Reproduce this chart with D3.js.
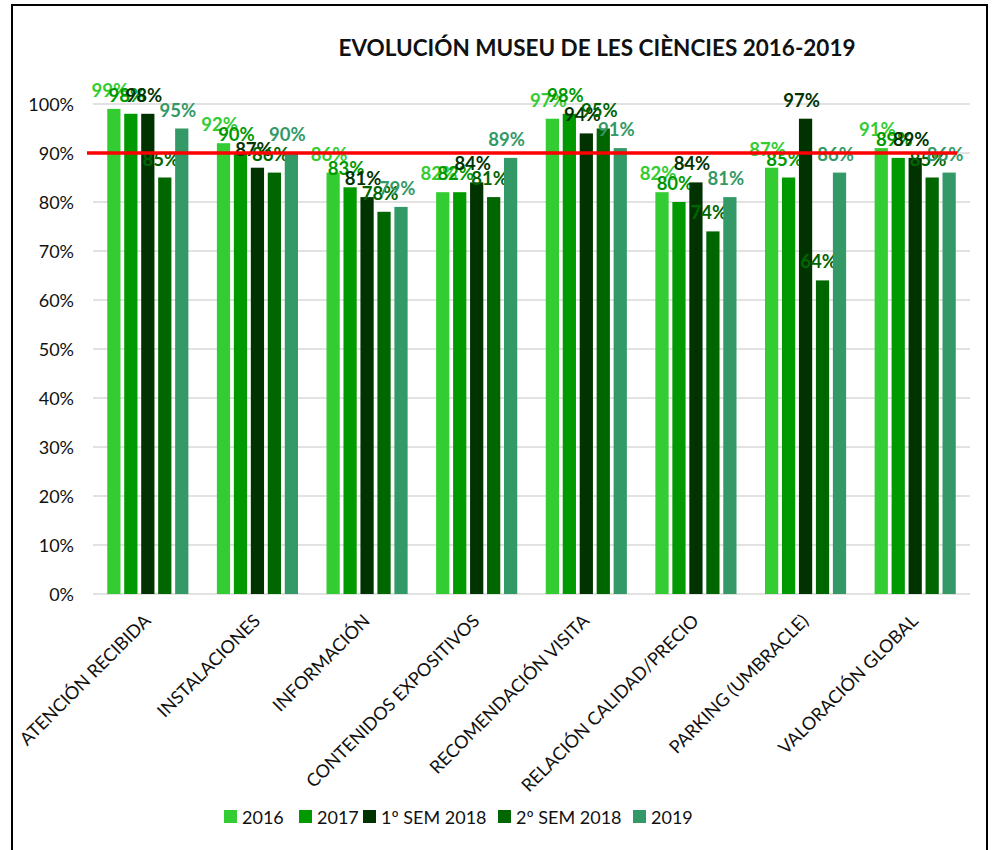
<!DOCTYPE html>
<html>
<head>
    <meta charset="utf-8" />
    <title>Evolución Museu de les Ciències</title>
    <script src="https://cdn.jsdelivr.net/npm/d3@7"></script>
    <style>
        body { margin: 0; background: #fff; font-family: Lato, "Noto Sans", sans-serif; }
        .grid line { stroke: #d9d9d9; stroke-width: 1.3; }
        .ylab { font-size: 18px; fill: #111; }
        .xlab { font-size: 18px; fill: #111; }
        .vlab { font-size: 18.5px; font-weight: bold; }
        .leg text { font-size: 18px; fill: #111; }
    </style>
</head>
<body>
<svg width="996" height="850"></svg>
<script>
    // categorías del eje X
    var categorias = ["ATENCIÓN RECIBIDA", "INSTALACIONES", "INFORMACIÓN", "CONTENIDOS EXPOSITIVOS",
        "RECOMENDACIÓN VISITA", "RELACIÓN CALIDAD/PRECIO", "PARKING (UMBRACLE)", "VALORACIÓN GLOBAL"];
    var series = ["2016", "2017", "1º SEM 2018", "2º SEM 2018", "2019"];
    var colores = ["#33cc33", "#009900", "#003300", "#006600", "#339966"];

    // valores (%) por serie
    var v2016 = [99, 92, 86, 82, 97, 82, 87, 91];
    var v2017 = [98, 90, 83, 82, 98, 80, 85, 89];
    var v1sem2018 = [98, 87, 81, 84, 94, 84, 97, 89];
    var v2sem2018 = [85, 86, 78, 81, 95, 74, 64, 85];
    var v2019 = [95, 90, 79, 89, 91, 81, 86, 86];
    var objetivo = 90;
    var yTicks = [0, 10, 20, 30, 40, 50, 60, 70, 80, 90, 100];

    var valores = [v2016, v2017, v1sem2018, v2sem2018, v2019];

    var svg = d3.select("svg");

    // marco
    svg.append("rect").attr("x", 12).attr("y", 5).attr("width", 975).attr("height", 860)
        .attr("fill", "none").attr("stroke", "#000").attr("stroke-width", 2);

    svg.append("text").attr("x", 597).attr("y", 56).attr("text-anchor", "middle")
        .style("font-size", "22.5px").style("font-weight", "bold").style("fill", "#111")
        .text("EVOLUCIÓN MUSEU DE LES CIÈNCIES 2016-2019");

    var pLeft = 93, pRight = 970, pTop = 104, pBottom = 594;

    var x0 = d3.scaleBand().domain(categorias).range([pLeft, pRight]).paddingInner(0.26).paddingOuter(0.13);
    var x1 = d3.scaleBand().domain(series).range([0, x0.bandwidth()]).paddingInner(0.22);
    var y = d3.scaleLinear().domain([0, 100]).range([pBottom, pTop]);

    // rejilla
    svg.append("g").attr("class", "grid").selectAll("line").data(yTicks).enter().append("line")
        .attr("x1", pLeft).attr("x2", pRight)
        .attr("y1", function (d) { return y(d); }).attr("y2", function (d) { return y(d); });

    // eje Y
    var yAxis = svg.append("g").attr("transform", "translate(" + (pLeft - 19) + ",0)")
        .call(d3.axisLeft(y).tickValues(yTicks).tickSize(0).tickFormat(function (d) { return d + "%"; }));
    yAxis.select(".domain").remove();
    yAxis.selectAll("text").attr("class", "ylab").attr("dy", "0.35em").attr("x", 0)
        .style("font-family", "Lato, sans-serif");

    // barras
    var grupos = svg.selectAll("g.serie").data(series).enter().append("g").attr("class", "serie");
    grupos.each(function (s, i) {
        var g = d3.select(this);
        g.selectAll("rect").data(valores[i]).enter().append("rect")
            .attr("x", function (d, j) { return x0(categorias[j]) + x1(s); })
            .attr("y", function (d) { return y(d); })
            .attr("width", x1.bandwidth())
            .attr("height", function (d) { return y(0) - y(d); })
            .attr("fill", colores[i]);
    });

    // línea objetivo
    svg.append("line").attr("x1", 87).attr("x2", 957)
        .attr("y1", y(objetivo)).attr("y2", y(objetivo))
        .attr("stroke", "#ff0000").attr("stroke-width", 3.5);

    // etiquetas de valor
    grupos.each(function (s, i) {
        var g = d3.select(this);
        g.selectAll("text").data(valores[i]).enter().append("text")
            .attr("class", "vlab")
            .attr("x", function (d, j) { return x0(categorias[j]) + x1(s) + x1.bandwidth() / 2 - 4; })
            .attr("y", function (d) { return y(d) - 12; })
            .attr("text-anchor", "middle")
            .attr("fill", colores[i])
            .text(function (d) { return d + "%"; });
    });

    // etiquetas eje X
    svg.append("g").selectAll("text").data(categorias).enter().append("text")
        .attr("class", "xlab")
        .attr("text-anchor", "end")
        .attr("transform", function (d) {
            return "translate(" + (x0(d) + x0.bandwidth() / 2 + 4) + "," + (pBottom + 28) + ") rotate(-45)";
        })
        .text(function (d) { return d; });

    // leyenda
    var legX = [224, 299, 363, 498, 633];
    var leg = svg.append("g").attr("class", "leg").selectAll("g").data(series).enter().append("g")
        .attr("transform", function (d, i) { return "translate(" + legX[i] + ",810)"; });
    leg.append("rect").attr("width", 13).attr("height", 13).attr("fill", function (d, i) { return colores[i]; });
    leg.append("text").attr("x", 18).attr("y", 13.5).text(function (d) { return d; });
</script>
</body>
</html>
